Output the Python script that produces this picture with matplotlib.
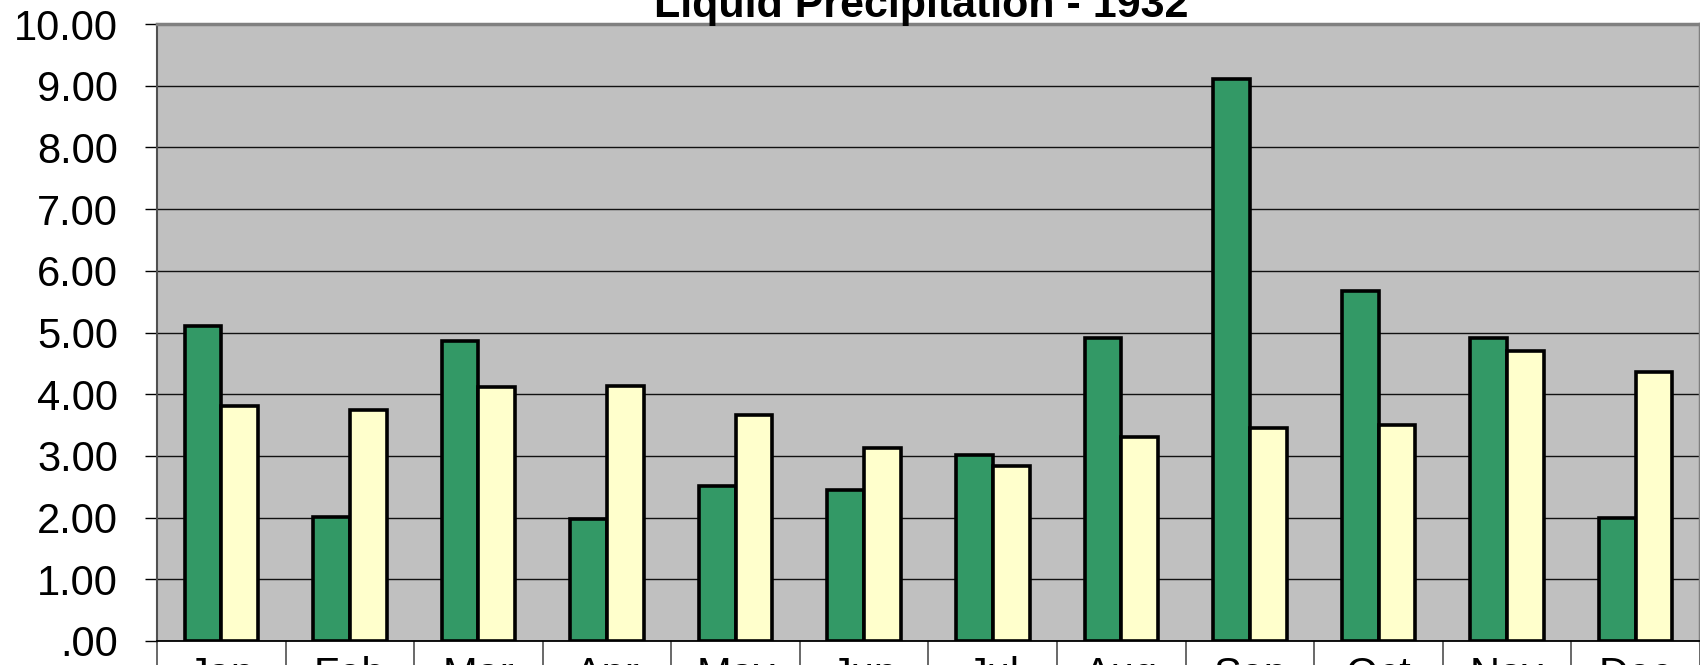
import matplotlib
matplotlib.use("Agg")
import matplotlib.pyplot as plt
from matplotlib.ticker import FixedLocator, FuncFormatter
import numpy as np

plt.rcParams['font.family'] = ['Liberation Sans', 'DejaVu Sans']

title = "Liquid Precipitation - 1932"
months = ["Jan", "Feb", "Mar", "Apr", "May", "Jun",
          "Jul", "Aug", "Sep", "Oct", "Nov", "Dec"]
precip_1932 = [5.11, 2.01, 4.86, 1.98, 2.52, 2.44, 3.01, 4.91, 9.11, 5.68, 4.91, 2.00]
precip_normal = [3.81, 3.75, 4.12, 4.13, 3.66, 3.13, 2.84, 3.30, 3.46, 3.50, 4.70, 4.36]
y_ticks = [0, 1, 2, 3, 4, 5, 6, 7, 8, 9, 10]

W, H = 1700, 665
fig = plt.figure(figsize=(W / 100, H / 100), dpi=100)
fig.patch.set_facecolor('white')

left_px, right_px, top_px, bottom_px = 157, 1700, 24, 641
ax = fig.add_axes([left_px / W, (H - bottom_px) / H,
                   (right_px - left_px) / W, (bottom_px - top_px) / H])
ax.set_facecolor('#C0C0C0')

x = np.arange(len(months))
bw = 1.0 / 3.5
ax.bar(x - bw / 2, precip_1932, width=bw, color='#339966',
       edgecolor='black', linewidth=2.6, zorder=3)
ax.bar(x + bw / 2, precip_normal, width=bw, color='#FFFFCC',
       edgecolor='black', linewidth=2.6, zorder=3)

ax.set_xlim(-0.5, len(months) - 0.5)
ax.set_ylim(0, 10)

# y axis
ax.yaxis.set_major_locator(FixedLocator(y_ticks))
def fmt(v, pos):
    s = f"{v:.2f}"
    if s.startswith("0"):
        s = s[1:]
    return s
ax.yaxis.set_major_formatter(FuncFormatter(fmt))
ax.tick_params(axis='y', which='major', direction='out', length=8.6,
               width=1.0, color='black', labelsize=30, pad=19.4)
ax.grid(axis='y', color='#111111', linewidth=1.0, zorder=1)
ax.set_axisbelow(True)

# x axis: labels at centers, separators at boundaries
ax.xaxis.set_major_locator(FixedLocator(x))
ax.set_xticklabels(months)
ax.xaxis.set_minor_locator(FixedLocator(np.arange(len(months) + 1) - 0.5))
ax.tick_params(axis='x', which='major', length=0, labelsize=30, pad=11)
ax.tick_params(axis='x', which='minor', direction='out', length=30,
               width=1.1, color='#404040')

for side, sp in ax.spines.items():
    sp.set_zorder(4)
ax.spines['bottom'].set_color('black')
ax.spines['bottom'].set_linewidth(1.3)
ax.spines['left'].set_color('#505050')
ax.spines['left'].set_linewidth(1.5)
ax.spines['top'].set_color('#808080')
ax.spines['top'].set_linewidth(2.5)
ax.spines['right'].set_color('#808080')
ax.spines['right'].set_linewidth(2.5)

fig.text(921 / W, 1 - 17 / H, title, ha='center', va='baseline',
         fontsize=31, fontweight='bold', color='black')

fig.savefig("out.png", dpi=100, facecolor='white')
